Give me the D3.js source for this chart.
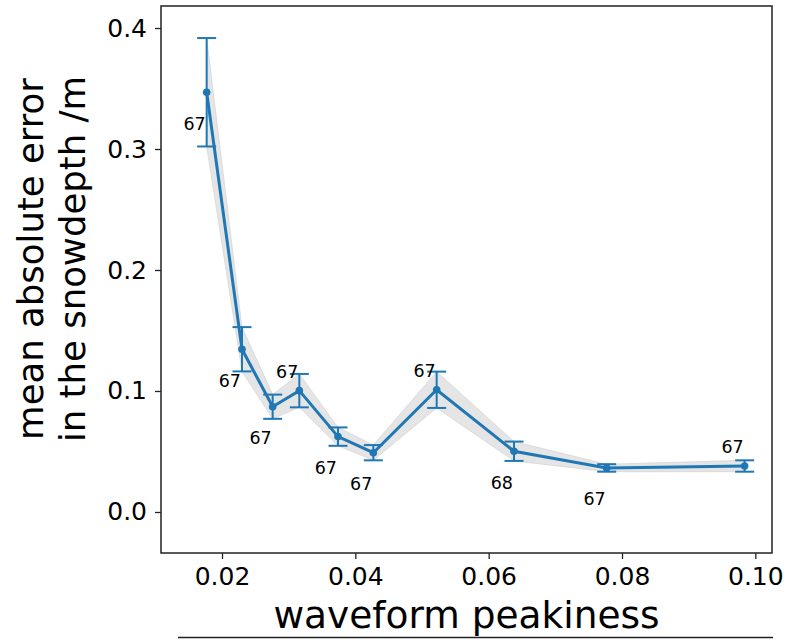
<!DOCTYPE html>
<html>
<head>
<meta charset="utf-8">
<script src="https://cdn.jsdelivr.net/npm/d3@7"></script>
<style>
  body { margin: 0; background: #fff; }
  text { font-family: "DejaVu Sans", sans-serif; }
</style>
</head>
<body>
<div class="canvas"></div>
<script>
// peakiness bins (x), mean abs error (y), error bar half width, sample counts
const peakiness = [0.0177, 0.0230, 0.0276, 0.0316, 0.0374, 0.0427, 0.0522, 0.0638, 0.0777, 0.0984];
const meanError = [0.3469, 0.1345, 0.0870, 0.1003, 0.0623, 0.0490, 0.1010, 0.0502, 0.0364, 0.0380];
const errorBar = [0.0448, 0.0183, 0.0100, 0.0138, 0.0076, 0.0063, 0.0150, 0.0080, 0.0031, 0.0047];
const counts = ["67", "67", "67", "67", "67", "67", "67", "68", "67", "67"];
const labelSide = ["below", "below", "below", "above", "below", "below", "above", "below", "below", "above"];
const xTicks = [0.02, 0.04, 0.06, 0.08, 0.10];
const yTicks = [0.0, 0.1, 0.2, 0.3, 0.4];

const data = peakiness.map((x, i) => ({
  x: x,
  y: meanError[i],
  e: errorBar[i],
  n: counts[i],
  side: labelSide[i]
}));

const w = 793;
const h = 640;
const margin = { top: 6, right: 21, bottom: 87, left: 161 };
const graphWidth = w - margin.left - margin.right;
const graphHeight = h - margin.top - margin.bottom;
const blue = "#1f77b4";

const svg = d3
  .select(".canvas")
  .append("svg")
  .attr("width", w)
  .attr("height", h);

// scales
const x = d3.scaleLinear().domain([0.01085, 0.1025]).range([0, graphWidth]);
const y = d3.scaleLinear().domain([-0.0339, 0.4182]).range([graphHeight, 0]);

const graph = svg
  .append("g")
  .attr("transform", `translate(${margin.left}, ${margin.top})`);

// grey band of +- error
const band = d3
  .area()
  .x(d => x(d.x))
  .y0(d => y(d.y - d.e))
  .y1(d => y(d.y + d.e));

graph
  .append("path")
  .datum(data)
  .attr("d", band)
  .attr("fill", "#d3d3d3")
  .attr("fill-opacity", 0.6)
  .attr("stroke", "#cfcfcf")
  .attr("stroke-opacity", 0.6);

// main line
const line = d3
  .line()
  .x(d => x(d.x))
  .y(d => y(d.y));

graph
  .append("path")
  .datum(data)
  .attr("d", line)
  .attr("fill", "none")
  .attr("stroke", blue)
  .attr("stroke-width", 3);

// error bars
const bars = graph.selectAll(".err").data(data).enter().append("g").attr("class", "err");
bars
  .append("line")
  .attr("x1", d => x(d.x))
  .attr("x2", d => x(d.x))
  .attr("y1", d => y(d.y - d.e))
  .attr("y2", d => y(d.y + d.e))
  .attr("stroke", blue)
  .attr("stroke-width", 2);
[-1, 1].forEach(s => {
  bars
    .append("line")
    .attr("x1", d => x(d.x) - 9.5)
    .attr("x2", d => x(d.x) + 9.5)
    .attr("y1", d => y(d.y + s * d.e))
    .attr("y2", d => y(d.y + s * d.e))
    .attr("stroke", blue)
    .attr("stroke-width", 2);
});

// markers
graph
  .selectAll("circle")
  .data(data)
  .enter()
  .append("circle")
  .attr("cx", d => x(d.x))
  .attr("cy", d => y(d.y))
  .attr("r", 3.8)
  .attr("fill", blue);

// count labels
graph
  .selectAll(".count")
  .data(data)
  .enter()
  .append("text")
  .attr("class", "count")
  .attr("x", d => x(d.x) - 1)
  .attr("y", d => y(d.side === "above" ? d.y + 0.0105 : d.y - 0.031))
  .attr("text-anchor", "end")
  .attr("font-size", 17.5)
  .attr("fill", "#000")
  .text(d => d.n);

// axes
const xAxis = d3.axisBottom(x).tickValues(xTicks).tickFormat(d3.format(".2f")).tickSize(6).tickPadding(8);
const yAxis = d3.axisLeft(y).tickValues(yTicks).tickFormat(d3.format(".1f")).tickSize(6).tickPadding(8);

const xAxisGroup = graph.append("g").attr("transform", `translate(0, ${graphHeight})`).call(xAxis);
const yAxisGroup = graph.append("g").call(yAxis);
[xAxisGroup, yAxisGroup].forEach(g => {
  g.select(".domain").remove();
  g.selectAll("line").attr("stroke", "#222").attr("stroke-width", 1.3);
  g.selectAll("text").attr("font-family", "DejaVu Sans").attr("font-size", 25).attr("fill", "#000");
});

// frame
graph
  .append("rect")
  .attr("width", graphWidth)
  .attr("height", graphHeight)
  .attr("fill", "none")
  .attr("stroke", "#222")
  .attr("stroke-width", 1.5);

// axis titles
svg
  .append("text")
  .attr("x", margin.left + graphWidth / 2)
  .attr("y", 628)
  .attr("text-anchor", "middle")
  .attr("font-size", 37.5)
  .text("waveform peakiness");

const ylab = svg
  .append("text")
  .attr("transform", "translate(31, 259) rotate(-90)")
  .attr("text-anchor", "middle")
  .attr("font-size", 35.5);
ylab.append("tspan").attr("x", 0).attr("dy", "0.35em").text("mean absolute error");
ylab.append("tspan").attr("x", 0).attr("dy", "1.18em").text("in the snowdepth /m");

// top edge of the panel below
svg
  .append("line")
  .attr("x1", 178)
  .attr("x2", 773)
  .attr("y1", 637.5)
  .attr("y2", 637.5)
  .attr("stroke", "#222")
  .attr("stroke-width", 1.5);
</script>
</body>
</html>
